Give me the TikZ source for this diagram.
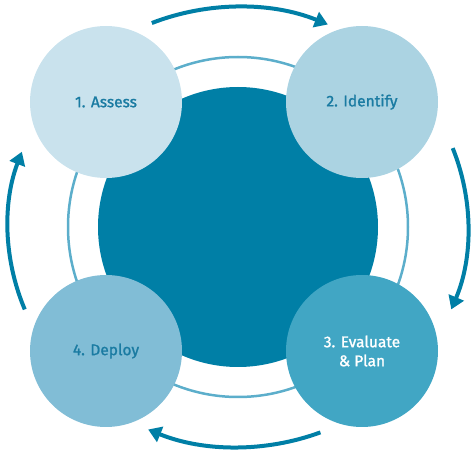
\documentclass[tikz,border=0pt]{standalone}
\usepackage{fontspec}
\setmainfont{Fira Sans}[BoldFont={Fira Sans}, BoldFeatures={FakeBold=1.3}]
\usetikzlibrary{arrows.meta}
\definecolor{dark}{HTML}{007FA6}
\definecolor{ringc}{HTML}{5CAECB}
\definecolor{cA}{HTML}{C9E2ED}
\definecolor{cB}{HTML}{ABD3E2}
\definecolor{cC}{HTML}{41A6C4}
\definecolor{cD}{HTML}{81BDD6}
\definecolor{txt}{HTML}{1A7BA2}
\tikzset{
  stage/.style={circle, minimum size=152pt, inner sep=0pt, align=center, font=\fontsize{15.5}{19}\selectfont\bfseries},
  cyc/.style={draw=dark, line width=4pt, -{Triangle[length=13pt,width=16pt]}}
}
\begin{document}
\begin{tikzpicture}[x=1pt,y=1pt]
\useasboundingbox (0,0) rectangle (475,456);
\coordinate (C) at (238,229);
\node[circle, fill=dark, minimum size=280pt, inner sep=0pt] (core) at (C) {};
\draw[ringc, line width=2.5pt] (C) circle[radius=170pt];
\node[stage, fill=cA, text=txt] (s1) at (106,354) {1. Assess};
\node[stage, fill=cB, text=txt] (s2) at (362,354) {2. Identify};
\node[stage, fill=cC, text=white] (s3) at (362,105) {3. Evaluate\\\& Plan};
\node[stage, fill=cD, text=txt] (s4) at (106,105) {4. Deploy};
\draw[cyc] (C) ++(112:230pt and 220pt) arc[start angle=112, end angle=67, x radius=230pt, y radius=220pt];
\draw[cyc] (C) ++(21:230pt and 220pt) arc[start angle=21, end angle=-22, x radius=230pt, y radius=220pt];
\draw[cyc] (C) ++(-69:230pt and 220pt) arc[start angle=-69, end angle=-113, x radius=230pt, y radius=220pt];
\draw[cyc] (C) ++(202:230pt and 220pt) arc[start angle=202, end angle=160, x radius=230pt, y radius=220pt];
\end{tikzpicture}
\end{document}
